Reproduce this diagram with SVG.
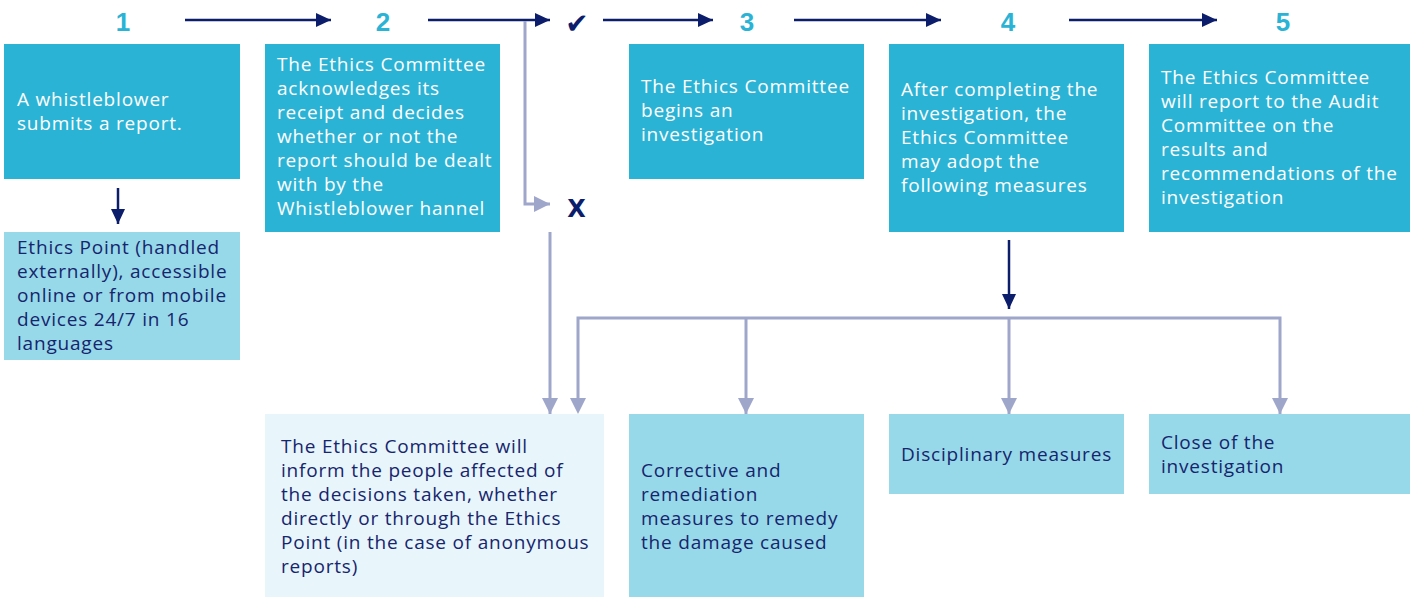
<svg xmlns="http://www.w3.org/2000/svg" width="1416" height="598" viewBox="0 0 1416 598">
  <style>
    .step { fill: #2bb3d6; }
    .soft { fill: #97d9e8; }
    .pale { fill: #e8f5fb; }
    .num { font-family: "Liberation Sans", Arial, sans-serif; font-weight: bold; font-size: 26px; fill: #2bb3d6; text-anchor: middle; }
    .txt { font-family: "Open Sans", "Liberation Sans", sans-serif; font-size: 19px; letter-spacing: 0.8px; }
    .w { fill: #ffffff; }
    .d { fill: #16256e; }
    .dark { stroke: #0c1d6b; stroke-width: 2.5; fill: none; }
    .grey { stroke: #9ea6ca; stroke-width: 3; fill: none; }
    .icon { font-family: "DejaVu Sans", sans-serif; fill: #0c1d6b; text-anchor: middle; }
  </style>
  <defs>
    <marker id="hd" markerUnits="userSpaceOnUse" markerWidth="16" markerHeight="14" refX="15" refY="7" orient="auto">
      <path d="M0,0 L15,7 L0,14 z" fill="#0c1d6b"/>
    </marker>
    <marker id="hg" markerUnits="userSpaceOnUse" markerWidth="17" markerHeight="17" refX="16" refY="8" orient="auto">
      <path d="M0,0 L16,8 L0,16 z" fill="#9ea6ca"/>
    </marker>
  </defs>

  <!-- step numbers -->
  <g id="numbers">
    <text class="num" x="123" y="31">1</text>
    <text class="num" x="383" y="31">2</text>
    <text class="num" x="747" y="31">3</text>
    <text class="num" x="1008" y="31">4</text>
    <text class="num" x="1283" y="31">5</text>
  </g>

  <!-- accept / reject marks -->
  <g id="accept">
    <text class="icon" x="577" y="33" font-size="28">✔</text>
  </g>
  <g id="reject">
    <text class="icon" x="576.5" y="217" font-size="24" font-weight="bold">X</text>
  </g>

  <g id="connectors">
    <line class="dark" x1="185" y1="20" x2="331" y2="20" marker-end="url(#hd)"/>
    <line class="dark" x1="428" y1="20" x2="550" y2="20" marker-end="url(#hd)"/>
    <line class="dark" x1="603" y1="20" x2="713" y2="20" marker-end="url(#hd)"/>
    <line class="dark" x1="794" y1="20" x2="941" y2="20" marker-end="url(#hd)"/>
    <line class="dark" x1="1069" y1="20" x2="1217" y2="20" marker-end="url(#hd)"/>
    <line class="dark" x1="118" y1="188" x2="118" y2="224" marker-end="url(#hd)"/>
    <line class="dark" x1="1009" y1="240" x2="1009" y2="309" marker-end="url(#hd)"/>
    <polyline class="grey" points="525,21 525,204 550,204" marker-end="url(#hg)"/>
    <line class="grey" x1="550" y1="232" x2="550" y2="414" marker-end="url(#hg)"/>
    <polyline class="grey" points="578,400 578,318 1280,318 1280,414" marker-end="url(#hg)"/>
    <line class="grey" x1="746" y1="318" x2="746" y2="414" marker-end="url(#hg)"/>
    <line class="grey" x1="1009" y1="318" x2="1009" y2="414" marker-end="url(#hg)"/>
    <!-- arrowhead on the left drop of the tree -->
    <path d="M570,398 L586,398 L578,414 z" fill="#9ea6ca"/>
  </g>

  <g id="step1">
    <rect class="step" x="4" y="44" width="236" height="135"/>
    <text class="txt w"><tspan x="17" y="106">A whistleblower</tspan><tspan x="17" y="130">submits a report.</tspan></text>
  </g>

  <g id="step1-channel">
    <rect class="soft" x="4" y="232" width="236" height="128"/>
    <text class="txt d"><tspan x="17" y="254">Ethics Point (handled</tspan><tspan x="17" y="278">externally), accessible</tspan><tspan x="17" y="302">online or from mobile</tspan><tspan x="17" y="326">devices 24/7 in 16</tspan><tspan x="17" y="350">languages</tspan></text>
  </g>

  <g id="step2">
    <rect class="step" x="265" y="44" width="235" height="188"/>
    <text class="txt w"><tspan x="277" y="71">The Ethics Committee</tspan><tspan x="277" y="95">acknowledges its</tspan><tspan x="277" y="119">receipt and decides</tspan><tspan x="277" y="143">whether or not the</tspan><tspan x="277" y="167">report should be dealt</tspan><tspan x="277" y="191">with by the</tspan><tspan x="277" y="215">Whistleblower hannel</tspan></text>
  </g>

  <g id="step3">
    <rect class="step" x="629" y="44" width="235" height="135"/>
    <text class="txt w"><tspan x="641" y="93">The Ethics Committee</tspan><tspan x="641" y="117">begins an</tspan><tspan x="641" y="141">investigation</tspan></text>
  </g>

  <g id="step4">
    <rect class="step" x="889" y="44" width="235" height="188"/>
    <text class="txt w"><tspan x="901" y="96">After completing the</tspan><tspan x="901" y="120">investigation, the</tspan><tspan x="901" y="144">Ethics Committee</tspan><tspan x="901" y="168">may adopt the</tspan><tspan x="901" y="192">following measures</tspan></text>
  </g>

  <g id="step5">
    <rect class="step" x="1149" y="44" width="261" height="188"/>
    <text class="txt w"><tspan x="1161" y="84">The Ethics Committee</tspan><tspan x="1161" y="108">will report to the Audit</tspan><tspan x="1161" y="132">Committee on the</tspan><tspan x="1161" y="156">results and</tspan><tspan x="1161" y="180">recommendations of the</tspan><tspan x="1161" y="204">investigation</tspan></text>
  </g>

  <g id="inform">
    <rect class="pale" x="265" y="414" width="339" height="183"/>
    <text class="txt d"><tspan x="281" y="453">The Ethics Committee will</tspan><tspan x="281" y="477">inform the people affected of</tspan><tspan x="281" y="501">the decisions taken, whether</tspan><tspan x="281" y="525">directly or through the Ethics</tspan><tspan x="281" y="549">Point (in the case of anonymous</tspan><tspan x="281" y="573">reports)</tspan></text>
  </g>

  <g id="corrective">
    <rect class="soft" x="629" y="414" width="235" height="183"/>
    <text class="txt d"><tspan x="641" y="477">Corrective and</tspan><tspan x="641" y="501">remediation</tspan><tspan x="641" y="525">measures to remedy</tspan><tspan x="641" y="549">the damage caused</tspan></text>
  </g>

  <g id="disciplinary">
    <rect class="soft" x="889" y="414" width="235" height="80"/>
    <text class="txt d" x="901" y="461">Disciplinary measures</text>
  </g>

  <g id="close">
    <rect class="soft" x="1149" y="414" width="261" height="80"/>
    <text class="txt d"><tspan x="1161" y="449">Close of the</tspan><tspan x="1161" y="473">investigation</tspan></text>
  </g>
</svg>
